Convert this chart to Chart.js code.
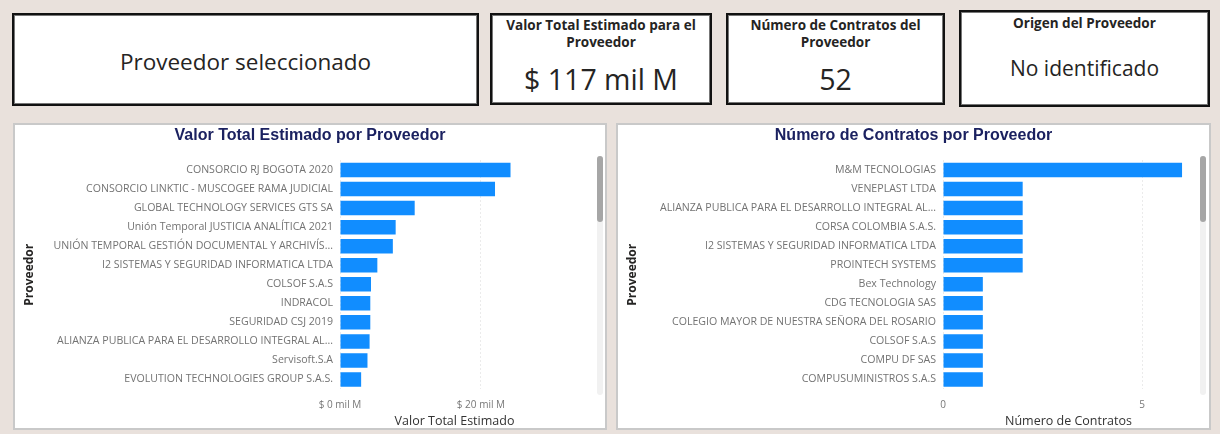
<!DOCTYPE html>
<html>
<head>
<meta charset="utf-8">
<script src="https://cdn.jsdelivr.net/npm/chart.js@4/dist/chart.umd.min.js"></script>
<style>
  body { margin: 0; width: 1220px; height: 434px; background: #e9e1dc; position: relative; overflow: hidden;
         font-family: "Open Sans", "Noto Sans", sans-serif; color: #252423; }
  .card { position: absolute; background: #fff; border: 2px solid #111; box-shadow: inset 0 0 0 1px #777;
          box-sizing: border-box; text-align: center; }
  .card .t { font-weight: bold; font-size: 13.5px; line-height: 17px; }
  .panel { position: absolute; background: #fff; border: 2px solid #c9c9c9; box-sizing: border-box; }
  .track { position: absolute; width: 6px; background: #f1f1f1; border-radius: 3px; }
  .thumb { position: absolute; width: 6px; background: #a6a6a6; border-radius: 3px; }
  canvas { position: absolute; }
</style>
</head>
<body>
<div class="card" style="left:12px;top:13px;width:467px;height:93px;">
  <div style="font-size:22.5px;margin-top:31px;">Proveedor seleccionado</div>
</div>
<div class="card" style="left:490px;top:13px;width:222px;height:92px;">
  <div class="t" style="margin-top:2px;">Valor Total Estimado para el<br>Proveedor</div>
  <div style="font-size:28.5px;margin-top:9px;">$ 117 mil M</div>
</div>
<div class="card" style="left:726px;top:13px;width:219px;height:92px;">
  <div class="t" style="margin-top:2px;">Número de Contratos del<br>Proveedor</div>
  <div style="font-size:28.5px;margin-top:9px;">52</div>
</div>
<div class="card" style="left:959px;top:10px;width:251px;height:97px;">
  <div class="t" style="margin-top:3px;">Origen del Proveedor</div>
  <div style="font-size:21px;margin-top:22px;">No identificado</div>
</div>

<div class="panel" style="left:13px;top:123px;width:594px;height:307px;"></div>
<div class="panel" style="left:616px;top:123px;width:595px;height:307px;"></div>
<div class="track" style="left:597px;top:156px;height:239px;"></div>
<div class="thumb" style="left:597px;top:156px;height:66px;"></div>
<div class="track" style="left:1200px;top:156px;height:239px;"></div>
<div class="thumb" style="left:1200px;top:156px;height:66px;"></div>

<canvas id="valorChart" style="left:15px;top:125px;" width="590" height="303"></canvas>
<canvas id="contratosChart" style="left:618px;top:125px;" width="591" height="303"></canvas>

<script>
const valorLabels = [
  'CONSORCIO RJ BOGOTA 2020',
  'CONSORCIO LINKTIC - MUSCOGEE RAMA JUDICIAL',
  'GLOBAL TECHNOLOGY SERVICES GTS SA',
  'Unión Temporal JUSTICIA ANALÍTICA 2021',
  'UNIÓN TEMPORAL GESTIÓN DOCUMENTAL Y ARCHIVÍS...',
  'I2 SISTEMAS Y SEGURIDAD INFORMATICA LTDA',
  'COLSOF S.A.S',
  'INDRACOL',
  'SEGURIDAD CSJ 2019',
  'ALIANZA PUBLICA PARA EL DESARROLLO INTEGRAL AL...',
  'Servisoft.S.A',
  'EVOLUTION TECHNOLOGIES GROUP S.A.S.'
];
// miles de millones (mil M)
const valorValues = [24.2, 22.0, 10.6, 7.9, 7.5, 5.3, 4.4, 4.3, 4.3, 4.2, 3.9, 3.0];
const valorTicks = [0, 20];

const contratosLabels = [
  'M&M TECNOLOGIAS',
  'VENEPLAST LTDA',
  'ALIANZA PUBLICA PARA EL DESARROLLO INTEGRAL AL...',
  'CORSA COLOMBIA S.A.S.',
  'I2 SISTEMAS Y SEGURIDAD INFORMATICA LTDA',
  'PROINTECH SYSTEMS',
  'Bex Technology',
  'CDG TECNOLOGIA SAS',
  'COLEGIO MAYOR DE NUESTRA SEÑORA DEL ROSARIO',
  'COLSOF S.A.S',
  'COMPU DF SAS',
  'COMPUSUMINISTROS S.A.S'
];
const contratosValues = [6, 2, 2, 2, 2, 2, 1, 1, 1, 1, 1, 1];
const contratosTicks = [0, 5];

const BAR_BLUE = '#118dff';
const LABEL_FONT = "'Open Sans', 'Noto Sans', sans-serif";

function makeChart(id, labels, values, tickList, axisMax, xTitle, title, fmt, rightGap) {
  return new Chart(document.getElementById(id), {
    type: 'bar',
    data: {
      labels: labels,
      datasets: [{
        data: values,
        backgroundColor: BAR_BLUE,
        barPercentage: 0.76,
        categoryPercentage: 1.0
      }]
    },
    options: {
      indexAxis: 'y',
      responsive: false,
      animation: false,
      layout: { padding: 0 },
      plugins: {
        legend: { display: false },
        tooltip: { enabled: false },
        title: {
          display: true,
          text: title,
          color: '#1b2160',
          font: { family: "'Liberation Sans', Arial, sans-serif", size: 16, weight: 'bold' },
          padding: { top: 0.5, bottom: 15.8 }
        }
      },
      scales: {
        x: {
          min: 0,
          max: axisMax,
          afterBuildTicks: s => { s.ticks = tickList.map(v => ({ value: v })); },
          grid: { color: '#d6d6d6', drawTicks: false },
          border: { display: false, dash: [1, 3] },
          ticks: {
            color: '#777',
            padding: 10.5,
            font: { family: LABEL_FONT, size: 10 },
            callback: fmt
          },
          title: {
            display: true,
            text: xTitle,
            color: '#333',
            padding: { top: -8, bottom: -1 },
            font: { family: LABEL_FONT, size: 12.5 }
          }
        },
        y: {
          afterFit: s => { s.width = 325; },
          grid: { display: false },
          border: { display: false },
          ticks: {
            autoSkip: false,
            color: '#737373',
            padding: -1,
            font: { family: LABEL_FONT, size: 10.6 }
          },
          title: {
            display: true,
            text: 'Proveedor',
            color: '#252423',
            padding: { top: 7, bottom: 0 },
            font: { family: LABEL_FONT, size: 12, weight: 'bold' }
          }
        },
        // empty right-hand axis: keeps the plot clear of the scrollbar
        gap: {
          type: 'linear',
          position: 'right',
          min: 0,
          max: 1,
          afterFit: s => { s.width = rightGap; },
          grid: { display: false },
          border: { display: false },
          ticks: { display: false }
        }
      }
    }
  });
}

makeChart('valorChart', valorLabels, valorValues, valorTicks, 32.5,
  'Valor Total Estimado', 'Valor Total Estimado por Proveedor',
  v => '$ ' + v + ' mil M', 36);
makeChart('contratosChart', contratosLabels, contratosValues, contratosTicks, 6.3,
  'Número de Contratos', 'Número de Contratos por Proveedor',
  v => String(v), 15);
</script>
</body>
</html>
